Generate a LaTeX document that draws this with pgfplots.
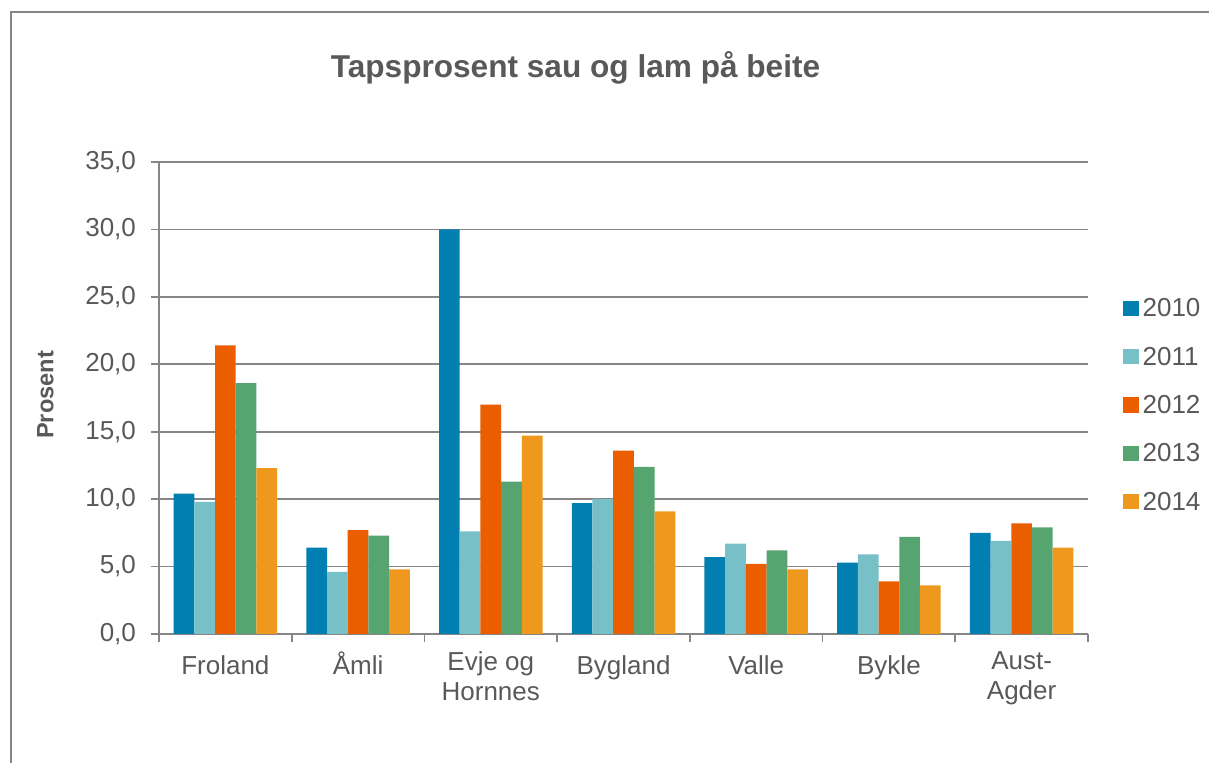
\documentclass[border=0pt]{standalone}
\usepackage{pgfplots}
\usepackage{pgfplotstable}
\pgfplotsset{compat=1.18}
\usepackage{fontspec}
\setmainfont{Liberation Sans}
\definecolor{c2010}{RGB}{0,127,176}
\definecolor{c2011}{RGB}{120,192,200}
\definecolor{c2012}{RGB}{234,94,0}
\definecolor{c2013}{RGB}{86,164,112}
\definecolor{c2014}{RGB}{238,153,30}
\definecolor{txt}{RGB}{89,89,89}
\definecolor{ln}{RGB}{134,134,134}
\pgfplotstableread{
x a b c d e
0 10.4 9.8 21.4 18.6 12.3
1 6.4 4.6 7.7 7.3 4.8
2 30.0 7.6 17.0 11.3 14.7
3 9.7 10.0 13.6 12.4 9.1
4 5.7 6.7 5.2 6.2 4.8
5 5.3 5.9 3.9 7.2 3.6
6 7.5 6.9 8.2 7.9 6.4
}\data
\begin{document}
\begin{tikzpicture}
\useasboundingbox (0,0) rectangle (604.5pt,381.5pt);
\draw[ln, line width=0.8pt] (5.5pt,-5pt) -- (5.5pt,375.5pt) -- (610pt,375.5pt);
\node[anchor=base, font=\fontsize{15.8}{18}\selectfont\bfseries, text=txt] at (287.75pt,342.5pt) {Tapsprosent sau og lam på beite};
\node[rotate=90, anchor=base, font=\fontsize{11.8}{14}\selectfont\bfseries, text=txt] at (26.7pt,184pt) {Prosent};
\begin{axis}[
  at={(79.5pt,64.5pt)}, anchor=south west,
  scale only axis, width=464.5pt, height=236pt,
  ybar=0pt, bar width=10.35pt,
  xmin=-0.5, xmax=6.5, ymin=0, ymax=35,
  axis x line*=bottom, axis y line*=left,
  axis line style={ln, line width=0.8pt},
  ymajorgrids, grid style={ln, line width=0.8pt},
  tick align=outside, major tick length=4pt,
  tick style={ln, line width=0.8pt},
  ytick={0,5,...,35},
  yticklabel style={font=\fontsize{13}{15}\selectfont, text=txt, xshift=-4pt,
    /pgf/number format/fixed, /pgf/number format/fixed zerofill,
    /pgf/number format/precision=1, /pgf/number format/use comma,
    /pgf/number format/assume math mode=true},
  xtick={-0.5,0.5,...,6.5}, xticklabel=\empty,
  extra x ticks={0,1,2,3,4,5,6},
  extra x tick labels={Froland,Åmli,{Evje og\\Hornnes},Bygland,Valle,Bykle,{Aust-\\Agder}},
  extra x tick style={major tick length=0pt, grid=none, tick style={draw=none}},
  xticklabel style={font=\fontsize{13}{15}\selectfont, text=txt, align=center,
    anchor=north, execute at begin node={\vphantom{Å}}, yshift=-5.3pt},
  legend style={draw=none, at={(1.0377,0.482)}, anchor=west, font=\fontsize{13}{15}\selectfont, text=txt,
    row sep=10.2pt, inner sep=0pt,
    nodes={text height=9.5pt, text depth=2.5pt, inner sep=1pt, inner xsep=2pt}},
  legend cell align=left,
  legend image code/.code={\fill[#1] (0pt,-3.1pt) rectangle (7.6pt,4.5pt);},
]
\addplot[fill=c2010, draw=none] table[x=x,y=a] {\data};
\addplot[fill=c2011, draw=none] table[x=x,y=b] {\data};
\addplot[fill=c2012, draw=none] table[x=x,y=c] {\data};
\addplot[fill=c2013, draw=none] table[x=x,y=d] {\data};
\addplot[fill=c2014, draw=none] table[x=x,y=e] {\data};
\legend{2010,2011,2012,2013,2014}
\end{axis}
\end{tikzpicture}
\end{document}
